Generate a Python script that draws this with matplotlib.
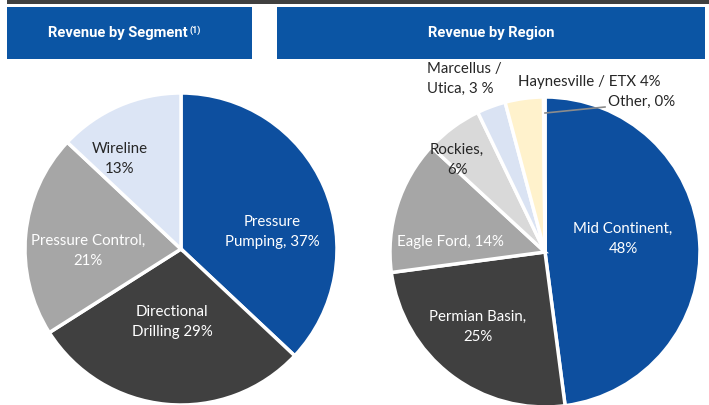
import matplotlib
matplotlib.use("Agg")
import matplotlib.pyplot as plt
import numpy as np

# ---- data ----
seg_labels = ["Pressure\nPumping, 37%", "Directional\nDrilling 29%", "Pressure Control,\n21%", "Wireline\n13%"]
seg_values = [37, 29, 21, 13]
seg_colors = ["#0D4F9F", "#404040", "#A6A6A6", "#DCE5F5"]
seg_text_colors = ["white", "white", "white", "#262626"]

reg_labels = ["Mid Continent,\n48%", "Permian Basin,\n25%", "Eagle Ford, 14%", "Rockies,\n6%",
              "Marcellus /\nUtica, 3 %", "Haynesville / ETX 4%", "Other, 0%"]
reg_values = [48, 25, 14, 6, 3, 4, 0.15]
reg_colors = ["#0D4F9F", "#404040", "#A6A6A6", "#D9D9D9", "#DAE3F3", "#FFF2CC", "#8FAADC"]
reg_text_colors = ["white", "white", "white", "#262626", "#262626", "#262626", "#262626"]

titles = ["Revenue by Segment", "Revenue by Region"]

W, H = 709, 405
fig = plt.figure(figsize=(W / 100, H / 100), dpi=100)
ax = fig.add_axes([0, 0, 1, 1])
ax.set_xlim(0, W)
ax.set_ylim(0, H)
ax.set_aspect("equal")
ax.axis("off")

font = "Lato"
fs = 10.8
ls = 1.55

def Y(y):
    return H - y

# top dark bar
ax.add_patch(plt.Rectangle((7, Y(4)), W - 7, 6, color="#404040", lw=0))
# header boxes
hdr = "#0B55A4"
ax.add_patch(plt.Rectangle((7, Y(59)), 245, 52, color=hdr, lw=0))
ax.add_patch(plt.Rectangle((277, Y(59)), 428, 52, color=hdr, lw=0))
ax.text(188, Y(33), titles[0], color="white", fontsize=10.6, fontweight="bold",
        family="Roboto", ha="right", va="center")
ax.text(190, Y(30), "(1)", color="white", fontsize=6.5, fontweight="bold",
        family="Roboto", ha="left", va="center")
ax.text(491, Y(33), titles[1], color="white", fontsize=10.6, fontweight="bold",
        family="Roboto", ha="center", va="center")

# left pie
c1 = (181, Y(249)); r1 = 156
w1, _ = ax.pie(seg_values, colors=seg_colors, startangle=90, counterclock=False,
               center=c1, radius=r1, wedgeprops=dict(edgecolor="white", linewidth=2.5),
               normalize=True)
ax.set_xlim(0, W); ax.set_ylim(0, H)
seg_pos = [(272, 232), (172, 322), (88, 251), (120, 159)]
for lab, tc, (x, y) in zip(seg_labels, seg_text_colors, seg_pos):
    ax.text(x, Y(y), lab, color=tc, fontsize=fs, family=font, ha="center", va="center",
            linespacing=ls)

# right pie
c2 = (545, Y(252)); r2 = 155
w2, _ = ax.pie(reg_values, colors=reg_colors, startangle=90, counterclock=False,
               center=c2, radius=r2, wedgeprops=dict(edgecolor="white", linewidth=2.5),
               normalize=True)
ax.set_xlim(0, W); ax.set_ylim(0, H)
reg_pos = [(623, 239, "center"), (478, 327, "center"), (450, 242, "center"), (457, 160, "center"),
           (427, 79, "left"), (518, 82, "left"), (608, 102, "left")]
for lab, tc, (x, y, ha) in zip(reg_labels, reg_text_colors, reg_pos):
    ax.text(x, Y(y), lab, color=tc, fontsize=fs, family=font, ha=ha, va="center",
            linespacing=ls, multialignment="left" if ha == "left" else "center")
# leader line for Other
ax.plot([545, 605], [Y(113), Y(107)], color="#8C8C8C", lw=1.2)

fig.savefig("out.png", dpi=100)
